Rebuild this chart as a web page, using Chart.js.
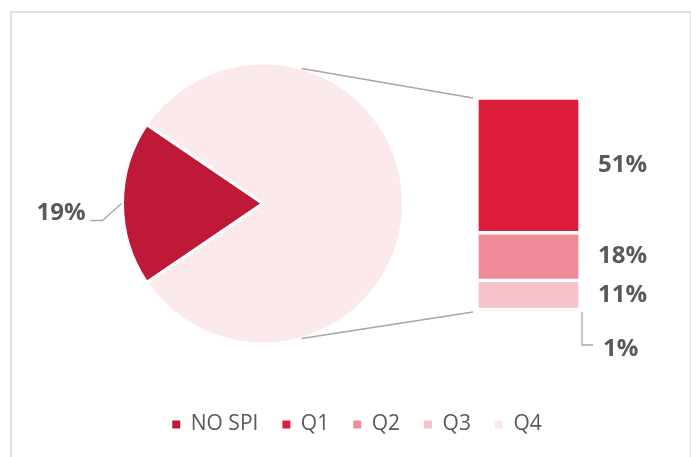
<!DOCTYPE html>
<html>
<head>
<meta charset="utf-8">
<script src="https://cdn.jsdelivr.net/npm/chart.js@4.4.1/dist/chart.umd.min.js"></script>
<style>
  html, body { margin: 0; padding: 0; background: #fff; }
  .wrap { position: relative; width: 691px; height: 457px; overflow: hidden; }
  .frame { position: absolute; left: 10px; top: 11px; width: 682px; height: 480px; border: 2px solid #e0e0e0; box-sizing: border-box; }
  canvas { position: absolute; left: 0; top: 0; }
</style>
</head>
<body>
<div class="wrap">
  <div class="frame"></div>
  <canvas id="pie" width="691" height="457"></canvas>
  <canvas id="bar" width="691" height="457"></canvas>
</div>
<script>
// data
const categories = ['NO SPI', 'Q1', 'Q2', 'Q3', 'Q4'];
const shares = [19, 51, 18, 11, 1];
const colors = ['#BE1A38', '#DD1C3B', '#F08B99', '#F7C3CB', '#FCE9EC'];

const otherTotal = shares.slice(1).reduce((a, b) => a + b, 0);
const pieTotal = shares[0] + otherTotal;

Chart.defaults.font.family = "'Open Sans', 'Liberation Sans', sans-serif";
const labelColor = '#595959';
const lineColor = '#a6a6a6';

//pie data label with leader line
const pieLabel = {
    id: 'pieLabel',
    afterDatasetsDraw(chart) {
        const ctx = chart.ctx;
        const arc = chart.getDatasetMeta(0).data[0];
        const mid = (arc.startAngle + arc.endAngle) / 2;
        const r = arc.outerRadius + 1;
        const px = arc.x + Math.cos(mid) * r;
        const py = arc.y + Math.sin(mid) * r;
        const ex = px - 19, ey = py + 17;
        ctx.save();
        ctx.strokeStyle = lineColor;
        ctx.lineWidth = 1.3;
        ctx.beginPath();
        ctx.moveTo(px, py);
        ctx.lineTo(ex, ey);
        ctx.lineTo(ex - 12, ey);
        ctx.stroke();
        ctx.fillStyle = labelColor;
        ctx.font = "bold 24px 'Open Sans'";
        ctx.textAlign = 'right';
        ctx.textBaseline = 'middle';
        ctx.fillText(Math.round(shares[0] / pieTotal * 100) + '%', ex - 17, ey - 7);
        ctx.restore();
    }
};

const pieChart = new Chart(document.getElementById('pie'), {
    type: 'pie',
    data: {
        labels: [categories[0], 'Other'],
        datasets: [{
            data: [shares[0], otherTotal],
            backgroundColor: [colors[0], colors[4]],
            borderColor: '#ffffff',
            borderWidth: 3
        }]
    },
    options: {
        responsive: false,
        animation: false,
        rotation: 270 - shares[0] / pieTotal * 180,
        layout: { padding: { left: 121, top: 61, right: 286, bottom: 111 } },
        plugins: {
            legend: { display: false },
            tooltip: { enabled: false }
        }
    },
    plugins: [pieLabel]
});

//bar labels + connector lines to the pie
const barExtras = {
    id: 'barExtras',
    afterDatasetsDraw(chart) {
        const ctx = chart.ctx;
        const area = chart.chartArea;
        ctx.save();
        ctx.font = "bold 24px 'Open Sans'";
        ctx.textAlign = 'left';
        ctx.textBaseline = 'middle';
        ctx.strokeStyle = lineColor;
        ctx.lineWidth = 1.3;
        let left = 0;
        chart.data.datasets.forEach((ds, i) => {
            const bar = chart.getDatasetMeta(i).data[0];
            const top = Math.min(bar.y, bar.base);
            const bottom = Math.max(bar.y, bar.base);
            const right = bar.x + bar.width / 2;
            left = bar.x - bar.width / 2;
            const txt = Math.round(ds.data[0] / pieTotal * 100) + '%';
            ctx.fillStyle = labelColor;
            if (bottom - top > 14) {
                ctx.fillText(txt, right + 18, (top + bottom) / 2);
            } else {
                ctx.beginPath();
                ctx.moveTo(right + 2, bottom);
                ctx.lineTo(right + 2, bottom + 33);
                ctx.lineTo(right + 13, bottom + 33);
                ctx.stroke();
                ctx.fillText(txt, right + 23, bottom + 37);
            }
        });
        // connectors
        const arc = pieChart.getDatasetMeta(0).data[0];
        const a = 74 * Math.PI / 180;
        const R = arc.outerRadius;
        ctx.lineWidth = 1.6;
        ctx.beginPath();
        ctx.moveTo(arc.x + Math.cos(a) * R, arc.y - Math.sin(a) * R);
        ctx.lineTo(left - 4, area.top);
        ctx.moveTo(arc.x + Math.cos(a) * R, arc.y + Math.sin(a) * R);
        ctx.lineTo(left - 4, area.bottom);
        ctx.stroke();
        ctx.restore();
    }
};

const barChart = new Chart(document.getElementById('bar'), {
    type: 'bar',
    data: {
        labels: ['Other'],
        datasets: categories.slice(1).map((c, i) => ({
            label: c,
            data: [shares[i + 1]],
            backgroundColor: colors[i + 1],
            borderColor: '#ffffff',
            borderWidth: 2,
            borderSkipped: false,
            barThickness: 103
        }))
    },
    options: {
        responsive: false,
        animation: false,
        layout: { padding: { left: 23, top: 98, right: 0, bottom: 12 } },
        scales: {
            x: {
                stacked: true,
                grid: { display: false },
                border: { display: false },
                ticks: { display: false },
                afterFit: s => { s.height = 78; }
            },
            y: {
                stacked: true,
                reverse: true,
                min: 0,
                max: otherTotal,
                grid: { display: false },
                border: { display: false },
                ticks: { display: false },
                afterFit: s => { s.width = 343; }
            }
        },
        plugins: {
            legend: {
                position: 'bottom',
                labels: {
                    boxWidth: 8,
                    boxHeight: 8,
                    padding: 24,
                    color: labelColor,
                    font: { size: 21 },
                    generateLabels: () => categories.map((c, i) => ({
                        text: c,
                        fillStyle: colors[i],
                        strokeStyle: colors[i],
                        lineWidth: 0,
                        hidden: false,
                        fontColor: labelColor
                    }))
                }
            },
            tooltip: { enabled: false }
        }
    },
    plugins: [barExtras]
});
</script>
</body>
</html>
